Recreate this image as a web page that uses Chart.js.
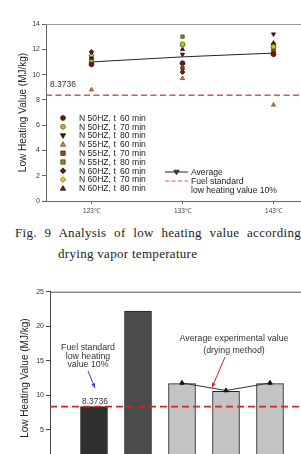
<!DOCTYPE html>
<html>
<head>
<meta charset="utf-8">
<script src="https://cdn.jsdelivr.net/npm/chart.js@4/dist/chart.umd.min.js"></script>
<style>
  body { margin: 0; width: 301px; height: 454px; overflow: hidden; background: #fff; position: relative; }
  #topChart { position: absolute; left: 0; top: 0; }
  #bottomChart { position: absolute; left: 0; top: 280px; }
  .cap { position: absolute; font-family: 'Liberation Serif', serif; font-size: 13px; letter-spacing: 0.3px; color: #222; line-height: 15px; }
  #cap1 { left: 15px; top: 225px; width: 286px; text-align: justify; text-align-last: justify; }
  #cap2 { left: 58px; top: 246px; white-space: nowrap; }
</style>
</head>
<body>
<canvas id="topChart" width="330" height="220"></canvas>
<div class="cap" id="cap1">Fig. 9 Analysis of low heating value according</div>
<div class="cap" id="cap2">drying vapor temperature</div>
<canvas id="bottomChart" width="330" height="200"></canvas>
<script>
// Datos - figura 9
const temps = ['123℃', '133℃', '143℃']
const n50t60 = [10.8, 10.9, 11.6]
const n50t70 = [11.0, 12.4, 12.2]
const n50t80 = [11.3, 11.6, 13.2]
const n55t60 = [8.8, 9.7, 7.6]
const n55t70 = [11.1, 10.5, 11.9]
const n55t80 = [11.2, 13.0, 12.1]
const n60t60 = [11.8, 10.2, 12.4]
const n60t70 = [11.5, 12.3, 11.8]
const n60t80 = [11.6, 12.0, 12.5]
const average = [11.0, 11.4, 11.7]
const fuelStandard = 8.3736

// Datos - gráfico de barras
const barLabels = ['', 'A', 'B', 'C', 'D', 'E', '']
const barValues = [null, 8.3736, 22.2, 11.7, 10.6, 11.7, null]
const avgExperimental = [null, null, null, 11.8, 10.7, 11.8, null]

const FONT = "'Liberation Sans', Arial, sans-serif"
const AXIS = '#666'

// Dibuja un marcador simple
function drawMarker(ctx, style, rot, x, y, r, fill, stroke) {
  ctx.save()
  ctx.fillStyle = fill
  ctx.strokeStyle = stroke
  ctx.lineWidth = 0.8
  ctx.translate(x, y)
  ctx.rotate((rot || 0) * Math.PI / 180)
  ctx.beginPath()
  if (style === 'circle') {
    ctx.arc(0, 0, r, 0, Math.PI * 2)
  } else if (style === 'rect') {
    ctx.rect(-r * 0.9, -r * 0.9, r * 1.8, r * 1.8)
  } else if (style === 'rectRot') {
    ctx.moveTo(0, -r * 1.2); ctx.lineTo(r * 1.2, 0); ctx.lineTo(0, r * 1.2); ctx.lineTo(-r * 1.2, 0)
  } else {
    ctx.moveTo(0, -r * 1.15); ctx.lineTo(r * 1.1, r * 0.75); ctx.lineTo(-r * 1.1, r * 0.75)
  }
  ctx.closePath()
  ctx.fill()
  ctx.stroke()
  ctx.restore()
}

function arrow(ctx, x1, y1, x2, y2, color) {
  const a = Math.atan2(y2 - y1, x2 - x1)
  ctx.save()
  ctx.strokeStyle = color
  ctx.fillStyle = color
  ctx.lineWidth = 1
  ctx.beginPath()
  ctx.moveTo(x1, y1)
  ctx.lineTo(x2, y2)
  ctx.stroke()
  ctx.beginPath()
  ctx.moveTo(x2, y2)
  ctx.lineTo(x2 - 5 * Math.cos(a - 0.4), y2 - 5 * Math.sin(a - 0.4))
  ctx.lineTo(x2 - 5 * Math.cos(a + 0.4), y2 - 5 * Math.sin(a + 0.4))
  ctx.closePath()
  ctx.fill()
  ctx.restore()
}

const series = [
  { label: 'N 50HZ, t  60 min', data: n50t60, style: 'circle', fill: '#6b1d12', stroke: '#3a0d06' },
  { label: 'N 50HZ, t  70 min', data: n50t70, style: 'circle', fill: '#b9c226', stroke: '#5a5a10' },
  { label: 'N 50HZ, t  80 min', data: n50t80, style: 'triangle', rot: 180, fill: '#3d2022', stroke: '#1a0a0a' },
  { label: 'N 55HZ, t  60 min', data: n55t60, style: 'triangle', fill: '#c98a55', stroke: '#7a4a20' },
  { label: 'N 55HZ, t  70 min', data: n55t70, style: 'rect', fill: '#8c4c22', stroke: '#4a2008' },
  { label: 'N 55HZ, t  80 min', data: n55t80, style: 'rect', fill: '#7d8d35', stroke: '#3e4818' },
  { label: 'N 60HZ, t  60 min', data: n60t60, style: 'rectRot', fill: '#741616', stroke: '#3a0808' },
  { label: 'N 60HZ, t  70 min', data: n60t70, style: 'rectRot', fill: '#cbd02a', stroke: '#6a6a10' },
  { label: 'N 60HZ, t  80 min', data: n60t80, style: 'triangle', fill: '#6e1c2a', stroke: '#300a10' },
]

// Plugin del gráfico superior: marco, línea estándar y leyendas
const topExtras = {
  id: 'topExtras',
  afterDatasetsDraw(chart) {
    const { ctx, chartArea, scales } = chart
    const yStd = scales.y.getPixelForValue(fuelStandard)
    ctx.save()
    ctx.strokeStyle = '#999'
    ctx.lineWidth = 1
    ctx.beginPath()
    ctx.moveTo(chartArea.left, chartArea.top + 0.5)
    ctx.lineTo(chartArea.right, chartArea.top + 0.5)
    ctx.stroke()

    ctx.strokeStyle = '#ee4b55'
    ctx.lineWidth = 1.5
    ctx.setLineDash([6, 3.5])
    ctx.beginPath()
    ctx.moveTo(chartArea.left, yStd)
    ctx.lineTo(chartArea.right, yStd)
    ctx.stroke()
    ctx.setLineDash([])

    ctx.font = '8.5px ' + FONT
    ctx.fillStyle = '#333'
    ctx.textBaseline = 'middle'
    ctx.fillText(fuelStandard.toString(), chartArea.left + 4, yStd - 10)

    // Leyenda de series
    ctx.font = '8.6px ' + FONT
    series.forEach((s, i) => {
      const y = 118 + i * 8.8
      drawMarker(ctx, s.style, s.rot, 63, y, 2.4, s.fill, s.stroke)
      ctx.fillStyle = '#222'
      ctx.fillText(s.label.replace('t  ', 't\u2002'), 79, y + 0.5)
    })

    // Leyenda de promedio y estándar
    ctx.strokeStyle = '#222'
    ctx.lineWidth = 1
    ctx.beginPath()
    ctx.moveTo(165, 172)
    ctx.lineTo(188, 172)
    ctx.stroke()
    drawMarker(ctx, 'triangle', 180, 176.5, 172, 2.4, '#5a3a2c', '#2a1a10')
    ctx.strokeStyle = '#ee4b55'
    ctx.lineWidth = 1.2
    ctx.setLineDash([4, 2.5])
    ctx.beginPath()
    ctx.moveTo(165, 181)
    ctx.lineTo(188, 181)
    ctx.stroke()
    ctx.setLineDash([])
    ctx.fillStyle = '#222'
    ctx.fillText('Average', 191, 172.5)
    ctx.fillText('Fuel standard', 191, 181.5)
    ctx.fillText('low heating value 10%', 191, 190.5)
    ctx.restore()
  },
}

const topDatasets = series.map((s) => ({
  label: s.label,
  data: s.data,
  showLine: false,
  pointStyle: s.style,
  rotation: s.rot || 0,
  pointRadius: 2.4,
  backgroundColor: s.fill,
  borderColor: s.stroke,
  borderWidth: 0.8,
}))
topDatasets.push({
  label: 'Average',
  data: average,
  borderColor: '#222',
  borderWidth: 1,
  pointRadius: 0,
  tension: 0,
})

new Chart(document.getElementById('topChart'), {
  type: 'line',
  data: { labels: temps, datasets: topDatasets },
  options: {
    responsive: false,
    animation: false,
    events: [],
    layout: { padding: { left: 0, top: 24, right: 11, bottom: 0 } },
    plugins: { legend: { display: false }, tooltip: { enabled: false } },
    scales: {
      x: {
        offset: true,
        afterFit: (scale) => { scale.height = 19 },
        grid: { drawOnChartArea: false, color: AXIS, tickLength: 3 },
        border: { color: AXIS },
        ticks: { font: { family: FONT, size: 6.5 }, color: '#444', padding: 3 },
      },
      y: {
        min: 0,
        max: 14,
        afterFit: (scale) => { scale.width = 46 },
        grid: { drawOnChartArea: false, color: AXIS, tickLength: 4 },
        border: { color: AXIS },
        ticks: { stepSize: 2, font: { family: FONT, size: 7 }, color: '#333', padding: 2 },
        title: {
          display: true,
          text: 'Low Heating Value (MJ/kg)',
          font: { family: FONT, size: 10 },
          color: '#222',
          padding: { top: 17, bottom: 0 },
        },
      },
    },
  },
  plugins: [topExtras],
})

// Plugin del gráfico inferior: marco, línea estándar y anotaciones
const bottomExtras = {
  id: 'bottomExtras',
  afterDatasetsDraw(chart) {
    const { ctx, chartArea, scales } = chart
    const yStd = scales.y.getPixelForValue(fuelStandard)
    const x1 = scales.x.getPixelForValue(1)
    const x3 = scales.x.getPixelForValue(3)
    const x4 = scales.x.getPixelForValue(4)
    ctx.save()
    ctx.strokeStyle = '#555'
    ctx.lineWidth = 1
    ctx.beginPath()
    ctx.moveTo(chartArea.left, chartArea.top + 0.5)
    ctx.lineTo(chartArea.right, chartArea.top + 0.5)
    ctx.stroke()

    ctx.strokeStyle = '#d4242c'
    ctx.lineWidth = 1.6
    ctx.setLineDash([7, 4])
    ctx.beginPath()
    ctx.moveTo(chartArea.left, yStd)
    ctx.lineTo(chartArea.right, yStd)
    ctx.stroke()
    ctx.setLineDash([])

    ctx.font = '8.5px ' + FONT
    ctx.fillStyle = '#333'
    ctx.textAlign = 'center'
    ctx.textBaseline = 'middle'
    ctx.fillText(fuelStandard.toString(), x1 + 1, yStd - 4.5)

    ctx.font = '8.8px ' + FONT
    ctx.fillText('Fuel standard', x1 - 6, 68)
    ctx.fillText('low heating', x1 - 6, 76.5)
    ctx.fillText('value 10%', x1 - 6, 85)
    arrow(ctx, x1 - 6, 91, x1 + 1, 108, '#3040e0')

    const xm = (x3 + x4) / 2
    ctx.fillText('Average experimental value', xm + 30, 59)
    ctx.fillText('(drying method)', xm + 30, 70.5)
    arrow(ctx, xm + 21, 77, xm + 8, 107.5, '#e02020')
    ctx.restore()
  },
}

new Chart(document.getElementById('bottomChart'), {
  type: 'bar',
  data: {
    labels: barLabels,
    datasets: [
      {
        type: 'line',
        label: 'Average experimental value',
        data: avgExperimental,
        borderColor: '#333',
        borderWidth: 1,
        pointStyle: 'triangle',
        pointRadius: 2.6,
        backgroundColor: '#111',
        pointBorderColor: '#111',
        tension: 0,
      },
      {
        label: 'Low heating value',
        data: barValues,
        backgroundColor: ['#fff', '#2f2f2f', '#4b4b4b', '#c3c3c3', '#c3c3c3', '#c3c3c3', '#fff'],
        borderColor: '#222',
        borderWidth: 1,
        barThickness: 27,
      },
    ],
  },
  options: {
    responsive: false,
    animation: false,
    events: [],
    layout: { padding: { left: 0, top: 11.7, right: 16, bottom: 0 } },
    plugins: { legend: { display: false }, tooltip: { enabled: false } },
    scales: {
      x: {
        offset: false,
        afterFit: (scale) => { scale.height = 15.5 },
        grid: { display: false, offset: false },
        border: { color: '#444' },
        ticks: { display: false },
      },
      y: {
        min: 0,
        max: 25,
        afterFit: (scale) => { scale.width = 50 },
        grid: { drawOnChartArea: false, color: '#444', tickLength: 4 },
        border: { color: '#444' },
        ticks: { stepSize: 5, font: { family: FONT, size: 7 }, color: '#333', padding: 2 },
        title: {
          display: true,
          text: 'Low Heating Value (MJ/kg)',
          font: { family: FONT, size: 10 },
          color: '#222',
          padding: { top: 19, bottom: 0 },
        },
      },
    },
  },
  plugins: [bottomExtras],
})
</script>
</body>
</html>
